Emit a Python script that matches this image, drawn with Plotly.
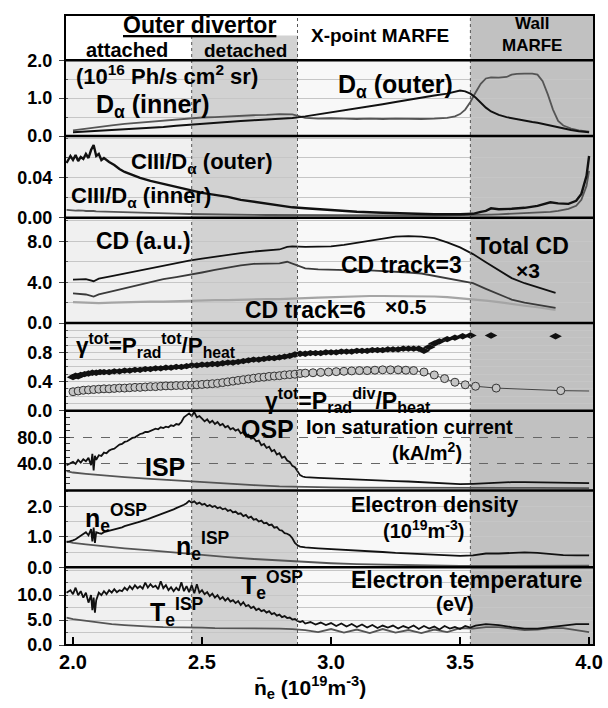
import plotly.graph_objects as go

FONT = "Liberation Sans, Arial, Helvetica, sans-serif"
BLACK = "#111111"
GRAY = "#555555"
LIGHT = "#a5a5a5"

# ---------------- data ----------------
# regime boundaries (line-averaged density, 1e19 m^-3)
x_detach = 2.46
x_xpoint = 2.87
x_wall = 3.54
x_min, x_max = 1.969, 4.019
x_ticks = [2.0, 2.5, 3.0, 3.5, 4.0]

# Panel 1: D-alpha (1e16 Ph/s cm2 sr)
da_x = [2.00,2.05,2.10,2.15,2.20,2.25,2.30,2.35,2.40,2.45,
        2.50,2.55,2.60,2.65,2.70,2.75,2.80,2.85,2.90,2.95,
        3.00,3.05,3.10,3.15,3.20,3.25,3.30,3.35,3.40,3.45,
        3.48,3.50,3.52,3.54,3.56,3.58,3.60,3.62,
        3.65,3.68,3.70,3.72,3.75,3.78,3.80,3.82,3.84,3.86,3.88,3.90,3.93,3.96,4.00]
da_outer = [0.10,0.12,0.13,0.15,0.17,0.19,0.22,0.24,0.27,0.30,
            0.33,0.35,0.37,0.40,0.42,0.44,0.46,0.48,0.52,0.57,
            0.62,0.67,0.72,0.78,0.84,0.90,0.96,1.02,1.07,1.12,
            1.17,1.20,1.18,1.12,1.02,0.88,0.75,0.65,
            0.56,0.50,0.47,0.44,0.41,0.37,0.35,0.32,0.29,0.26,0.23,0.20,0.16,0.13,0.10]
da_inner = [0.15,0.20,0.24,0.28,0.32,0.35,0.38,0.41,0.44,0.47,
            0.49,0.50,0.52,0.53,0.55,0.56,0.58,0.57,0.48,0.46,
            0.47,0.46,0.45,0.46,0.45,0.46,0.45,0.45,0.46,0.48,
            0.52,0.58,0.70,0.90,1.15,1.38,1.52,1.55,
            1.54,1.56,1.62,1.64,1.65,1.65,1.62,1.45,1.10,0.70,0.40,0.28,0.20,0.15,0.12]

# Panel 2: CIII/D-alpha
ciii_x = [1.975,1.99,2.00,2.01,2.02,2.03,2.04,2.05,2.06,2.07,
          2.08,2.09,2.10,2.11,2.12,2.14,2.16,2.18,2.20,2.23,
          2.26,2.30,2.35,2.40,2.45,2.50,2.55,2.60,2.65,2.70,
          2.75,2.80,2.85,2.90,2.95,3.00,3.10,3.20,3.30,3.40,
          3.50,3.55,3.58,3.60,3.62,3.65,3.70,3.75,3.80,3.85,
          3.88,3.92,3.95,3.97,3.99,4.00]
ciii_outer = [0.055,0.062,0.058,0.063,0.057,0.061,0.059,0.064,0.060,0.068,
              0.073,0.062,0.064,0.058,0.060,0.056,0.053,0.049,0.046,0.043,
              0.040,0.037,0.034,0.031,0.028,0.025,0.023,0.021,0.018,0.016,
              0.014,0.012,0.0105,0.0095,0.0085,0.0075,0.006,0.005,0.004,0.0035,
              0.0035,0.004,0.006,0.007,0.0095,0.0085,0.009,0.010,0.012,0.0155,
              0.0145,0.014,0.017,0.024,0.042,0.062]
ciii_inner = [0.0080,0.0075,0.0078,0.0072,0.0075,0.0070,0.0072,0.0068,0.0070,0.0066,
              0.0068,0.0065,0.0064,0.0063,0.0062,0.0060,0.0058,0.0056,0.0055,0.0052,
              0.0050,0.0047,0.0044,0.0041,0.0038,0.0035,0.0033,0.0031,0.0030,0.0029,
              0.0028,0.0027,0.0026,0.0025,0.0025,0.0024,0.0024,0.0023,0.0023,0.0023,
              0.0024,0.0026,0.0028,0.0030,0.0032,0.0035,0.0040,0.0045,0.0050,0.0060,
              0.0070,0.0090,0.0120,0.0180,0.0320,0.0470]

# Panel 3: CD (a.u.)
cd_x = [2.00,2.05,2.08,2.10,2.15,2.20,2.25,2.30,2.35,2.40,
        2.45,2.50,2.55,2.60,2.65,2.70,2.75,2.80,2.83,2.85,
        2.90,2.95,3.00,3.05,3.10,3.15,3.20,3.25,3.30,3.35,
        3.40,3.45,3.50,3.55,3.60,3.65,3.70,3.75,3.80,3.85,
        3.87]
cd_total = [4.25,4.30,4.10,4.35,4.60,4.85,5.15,5.40,5.65,5.90,
            6.10,6.30,6.50,6.70,6.85,7.00,7.10,7.20,7.45,7.50,
            7.45,7.45,7.50,7.65,7.85,8.10,8.30,8.45,8.50,8.45,
            8.30,7.90,7.40,6.75,5.95,5.15,4.40,3.90,3.50,3.10,
            2.95]
cd_track3 = [2.90,2.80,2.60,2.80,3.10,3.40,3.75,4.05,4.30,4.50,
             4.70,4.95,5.20,5.45,5.65,5.80,5.85,5.85,6.00,5.80,
             5.35,5.25,5.20,5.20,5.15,5.15,5.10,5.00,4.95,4.85,
             4.60,4.35,4.10,3.90,3.35,2.80,2.30,2.00,1.80,1.55,
             1.50]
cd_track6 = [2.05,2.00,1.90,1.95,2.00,2.05,2.05,2.10,2.10,2.15,
             2.20,2.20,2.25,2.25,2.30,2.30,2.35,2.35,2.40,2.40,
             2.45,2.50,2.55,2.60,2.62,2.65,2.65,2.65,2.65,2.62,
             2.60,2.55,2.45,2.35,2.20,2.05,1.85,1.70,1.55,1.40,
             1.30]

# Panel 4: radiated fractions
gtot_x = [2.00,2.01,2.02,2.03,2.045,2.06,2.075,2.09,2.105,2.12,
          2.14,2.16,2.18,2.20,2.22,2.24,2.26,2.28,2.30,2.32,
          2.34,2.36,2.38,2.40,2.42,2.44,2.46,2.48,2.50,2.52,
          2.54,2.56,2.58,2.60,2.62,2.64,2.66,2.68,2.70,2.72,
          2.74,2.76,2.78,2.80,2.82,2.84,2.86,2.88,2.90,2.92,
          2.94,2.96,2.98,3.00,3.02,3.04,3.06,3.08,3.10,3.12,
          3.14,3.16,3.18,3.20,3.22,3.24,3.26,3.28,3.30,3.32,
          3.34,3.36,3.38,3.40,3.42,3.45,3.48,3.51,3.54,3.62,
          3.87]
gtot = [0.46,0.48,0.47,0.49,0.50,0.51,0.52,0.52,0.53,0.53,
        0.53,0.54,0.54,0.55,0.55,0.56,0.56,0.57,0.57,0.58,
        0.58,0.59,0.59,0.60,0.60,0.61,0.62,0.62,0.63,0.63,
        0.64,0.64,0.65,0.66,0.66,0.67,0.68,0.69,0.70,0.70,
        0.71,0.72,0.72,0.73,0.74,0.75,0.77,0.78,0.78,0.79,
        0.79,0.79,0.80,0.80,0.80,0.81,0.81,0.81,0.82,0.82,
        0.82,0.83,0.83,0.83,0.84,0.84,0.84,0.85,0.85,0.85,
        0.85,0.82,0.87,0.92,0.95,0.98,1.00,1.02,1.03,1.03,
        1.02]
gdiv_x = [2.00,2.02,2.04,2.06,2.08,2.10,2.12,2.14,2.16,2.18,
          2.20,2.22,2.24,2.26,2.28,2.30,2.32,2.34,2.36,2.38,
          2.40,2.42,2.44,2.46,2.48,2.50,2.52,2.54,2.56,2.58,
          2.60,2.62,2.64,2.66,2.68,2.70,2.72,2.74,2.76,2.78,
          2.80,2.82,2.84,2.86,2.88,2.90,2.93,2.96,2.99,3.02,
          3.05,3.08,3.11,3.14,3.17,3.20,3.23,3.26,3.29,3.32,
          3.36,3.40,3.44,3.48,3.52,3.56,3.64,3.89,4.00]
gdiv = [0.26,0.27,0.28,0.285,0.29,0.295,0.30,0.30,0.305,0.31,
        0.31,0.315,0.32,0.32,0.325,0.33,0.33,0.335,0.34,0.34,
        0.345,0.345,0.35,0.35,0.355,0.36,0.365,0.37,0.375,0.385,
        0.395,0.405,0.415,0.425,0.435,0.445,0.455,0.46,0.47,0.475,
        0.48,0.49,0.495,0.50,0.51,0.515,0.52,0.525,0.53,0.535,
        0.54,0.545,0.55,0.55,0.555,0.56,0.56,0.56,0.555,0.55,
        0.53,0.49,0.44,0.39,0.355,0.335,0.31,0.275,0.27]

# Panels 5-7: probe data (OSP noisy traces share this density grid up to 2.90)
isat_x = [1.975,1.99,2.00,2.01,2.02,2.03,2.04,2.05,2.06,2.07,2.075,2.08,2.085,
          2.09,2.10,2.11,2.12,2.13,2.14,2.15,2.16,2.17,2.18,
          2.19,2.20,2.21,2.22,2.23,2.24,2.25,2.26,2.27,2.28,
          2.29,2.30,2.31,2.32,2.33,2.34,2.35,2.36,2.37,2.38,
          2.39,2.40,2.41,2.42,2.43,2.44,2.45,2.46,2.47,2.48,
          2.49,2.50,2.51,2.52,2.53,2.54,2.55,2.56,2.57,2.58,
          2.59,2.60,2.61,2.62,2.63,2.64,2.65,2.66,2.67,2.68,
          2.69,2.70,2.71,2.72,2.73,2.74,2.75,2.76,2.77,2.78,
          2.79,2.80,2.81,2.82,2.83,2.84,2.85,2.86,2.87,2.88,
          2.89,2.90,
          2.95,3.00,3.05,3.10,3.15,3.20,3.25,3.30,3.35,3.40,
          3.45,3.50,3.55,3.60,3.65,3.70,3.75,3.80,3.85,3.90,
          3.95,4.00]
isat_osp = [38,41,43,40,46,42,47,44,49,38,55,30,52,
            46,53,52,57,56,60,62,63,66,69,
            70,73,74,77,79,80,83,85,86,88,
            88,90,91,93,92,95,94,96,95,98,
            97,100,99,103,110,113,116,112,118,110,
            112,108,104,107,102,105,100,103,98,100,
            95,97,92,94,90,92,86,88,82,84,
            78,79,74,75,68,70,64,66,59,61,
            54,56,49,51,45,43,37,35,29,23,
            21,20,
            19,18,17,16,15.5,15,14,13.5,12.5,11.5,
            10.5,9.5,10,11,12,12.5,12.5,12,11.5,11,
            11,11]
ne_osp = [0.82,0.85,0.88,0.92,0.98,1.02,1.08,1.15,1.05,1.25,0.85,1.30,0.80,
          1.15,1.12,1.10,1.15,1.17,1.19,1.21,1.24,1.26,1.29,
          1.31,1.35,1.37,1.40,1.42,1.45,1.47,1.50,1.52,1.55,
          1.58,1.61,1.64,1.67,1.70,1.74,1.77,1.80,1.83,1.87,
          1.90,1.94,1.97,2.01,2.05,2.10,2.18,2.12,2.16,2.08,
          2.12,2.05,2.08,2.00,2.04,1.98,2.01,1.94,1.97,1.90,
          1.93,1.85,1.88,1.80,1.83,1.75,1.77,1.68,1.72,1.62,
          1.66,1.56,1.58,1.50,1.53,1.44,1.46,1.38,1.40,1.30,
          1.32,1.22,1.20,1.12,1.10,1.05,0.95,0.80,0.72,0.68,
          0.66,0.65,
          0.62,0.60,0.57,0.54,0.52,0.50,0.47,0.45,0.42,0.40,
          0.38,0.37,0.39,0.45,0.45,0.47,0.49,0.47,0.43,0.40,
          0.39,0.39]
isp_x = [1.975,2.00,2.05,2.10,2.20,2.30,2.40,2.50,2.60,2.70,2.80,2.90,
         3.00,3.10,3.20,3.30,3.40,3.50,3.60,3.70,3.80,3.90,4.00]
isat_isp = [29,27,25,23,20,17.5,15,12,10,8,6,5,
            4.5,4.2,4.0,3.8,3.5,3.5,3.6,3.8,3.8,3.7,3.6]
ne_isp = [0.85,0.80,0.75,0.70,0.62,0.55,0.47,0.40,0.33,0.27,0.22,0.17,
          0.13,0.10,0.08,0.06,0.05,0.04,0.04,0.04,0.04,0.05,0.05]

te_x = [1.975,1.99,2.00,2.01,2.02,2.03,2.04,2.05,2.06,2.07,2.075,2.08,2.085,
        2.09,2.10,2.11,2.12,2.13,2.14,2.15,2.16,2.17,2.18,
        2.19,2.20,2.21,2.22,2.23,2.24,2.25,2.26,2.27,2.28,
        2.29,2.30,2.31,2.32,2.33,2.34,2.35,2.36,2.37,2.38,
        2.39,2.40,2.41,2.42,2.43,2.44,2.45,2.46,2.47,2.48,
        2.49,2.50,2.51,2.52,2.53,2.54,2.55,2.56,2.57,2.58,
        2.59,2.60,2.61,2.62,2.63,2.64,2.65,2.66,2.67,2.68,
        2.69,2.70,2.71,2.72,2.73,2.74,2.75,2.76,2.77,2.78,
        2.79,2.80,2.81,2.82,2.83,2.84,2.85,2.86,2.87,2.88,
        2.89,2.90,
        2.92,2.94,2.96,2.98,3.00,3.02,3.04,3.06,3.08,3.10,
        3.12,3.14,3.16,3.18,3.20,3.22,3.24,3.26,3.28,3.30,
        3.32,3.34,3.36,3.38,3.40,3.42,3.44,3.46,3.48,3.50,
        3.52,3.54,3.56,
        3.60,3.65,3.70,3.75,3.80,3.85,3.90,3.95,4.00]
te_osp = [10.5,11.0,10.2,11.5,10.0,10.8,9.5,10.5,8.5,10.0,7.0,9.5,6.5,
          9.0,10.5,10.0,10.8,10.2,11.0,10.5,11.2,10.6,11.0,
          10.8,11.5,11.0,11.8,11.2,12.0,11.4,11.8,11.3,12.5,
          11.5,12.2,11.6,11.9,11.2,12.8,11.4,12.0,11.0,11.6,
          10.8,11.5,10.9,12.6,10.8,11.8,10.6,12.0,10.4,12.2,
          10.5,11.0,10.2,10.6,9.8,10.3,9.5,10.0,9.2,9.6,
          8.9,9.4,8.7,9.0,8.4,8.8,8.0,8.6,7.8,8.0,
          7.4,7.7,7.0,7.3,6.8,7.0,6.5,6.8,6.2,6.4,
          5.9,6.1,5.6,5.8,5.4,5.5,5.1,5.2,4.8,4.6,
          4.8,4.3,
          4.6,4.1,4.5,4.0,4.4,3.8,4.3,3.7,4.2,3.6,
          4.1,3.5,4.0,3.4,3.9,3.5,3.9,3.3,3.8,3.4,
          3.9,3.2,3.8,3.3,3.7,3.1,3.8,3.3,3.6,3.2,
          3.8,3.5,3.9,
          4.2,4.0,3.6,3.3,3.3,3.6,4.0,4.2,4.2]
te_isp_x = [1.975,2.00,2.03,2.06,
            2.10,2.15,2.20,2.25,2.30,2.35,2.40,2.45,2.50,2.55,
            2.60,2.65,2.70,2.75,2.80,2.85,2.90,2.95,3.00,3.05,
            3.10,3.15,3.20,3.25,3.30,3.35,3.40,3.45,3.50,3.55,
            3.60,3.65,3.70,3.75,3.80,3.85,3.90,3.95,4.00]
te_isp = [5.5,5.2,5.0,4.8,
          4.5,4.2,4.0,3.8,3.7,3.6,3.6,3.5,3.5,3.4,
          3.4,3.4,3.3,3.3,3.3,3.2,3.0,2.6,3.2,2.5,
          3.1,2.4,3.2,2.5,3.0,2.4,3.1,2.6,3.4,3.3,
          3.6,3.6,3.3,3.0,3.1,3.4,3.4,3.0,2.6]

# ---------------- figure ----------------
PX = [5, 51, 128, 211, 318, 407, 488, 566, 645]   # panel borders (px from top)
TOP, BOT = PX[0], PX[-1]
PLOT_H = BOT - TOP


def frac(px):
    return (BOT - px) / PLOT_H


fig = go.Figure()


def add_line(x, y, yaxis, color, width):
    fig.add_trace(go.Scatter(x=x, y=y, xaxis="x", yaxis=yaxis, mode="lines",
                             line=dict(color=color, width=width),
                             showlegend=False, hoverinfo="skip"))


# D-alpha
add_line(da_x, da_inner, "y7", GRAY, 1.8)
add_line(da_x, da_outer, "y7", BLACK, 2.0)
# CIII / D-alpha
add_line(ciii_x, ciii_inner, "y6", GRAY, 1.8)
add_line(ciii_x, ciii_outer, "y6", BLACK, 2.4)
# CD
add_line(cd_x, cd_track6, "y5", LIGHT, 2.2)
add_line(cd_x, cd_track3, "y5", "#3a3a3a", 1.8)
add_line(cd_x, cd_total, "y5", BLACK, 1.8)
# radiated fractions
fig.add_trace(go.Scatter(x=gdiv_x, y=gdiv, xaxis="x", yaxis="y4", mode="lines",
                         line=dict(color="#444444", width=1), showlegend=False,
                         hoverinfo="skip"))
fig.add_trace(go.Scatter(x=gdiv_x[:-1], y=gdiv[:-1], xaxis="x", yaxis="y4", mode="markers",
                         marker=dict(symbol="circle", size=8, color="#c4c4c4",
                                     line=dict(color="#333333", width=1)),
                         showlegend=False, hoverinfo="skip"))
fig.add_trace(go.Scatter(x=gtot_x, y=gtot, xaxis="x", yaxis="y4", mode="markers",
                         marker=dict(symbol="diamond-wide", size=9, color=BLACK,
                                     line=dict(width=0)),
                         showlegend=False, hoverinfo="skip"))
# Isat
add_line(isp_x, isat_isp, "y3", GRAY, 1.8)
add_line(isat_x, isat_osp, "y3", BLACK, 1.8)
# ne
add_line(isp_x, ne_isp, "y2", GRAY, 1.8)
add_line(isat_x, ne_osp, "y2", BLACK, 1.8)
# Te
add_line(te_isp_x, te_isp, "y", GRAY, 1.8)
add_line(te_x, te_osp, "y", BLACK, 1.8)

GRID = "#c6c6c6"


def yaxis(top, bot, rng, tickvals, fmt, grid_dtick, minor_len=3, dashed=False):
    d = dict(domain=[frac(bot), frac(top)], range=rng, anchor="x",
             tickvals=tickvals, tickformat=fmt, ticks="outside", ticklen=5,
             tickcolor="#444444", tickwidth=1,
             tickfont=dict(family=FONT, size=18, color="black", weight="bold"),
             showline=False, zeroline=False, fixedrange=True, ticklabelstandoff=3)
    if dashed:
        d.update(showgrid=True, gridcolor="#666666", griddash="dash", gridwidth=1,
                 minor=dict(dtick=grid_dtick, tick0=0, ticks="inside", ticklen=minor_len,
                            tickcolor="#333333", showgrid=False))
    else:
        d.update(showgrid=True, gridcolor=GRID, gridwidth=1,
                 minor=dict(dtick=grid_dtick, tick0=0, ticks="inside", ticklen=minor_len,
                            tickcolor="#555555", showgrid=True, gridcolor=GRID, gridwidth=1))
    return d


layout = dict(
    width=608, height=708,
    margin=dict(l=65, r=11, t=TOP, b=708 - BOT, pad=0),
    paper_bgcolor="white", plot_bgcolor="rgba(0,0,0,0)",
    showlegend=False,
    font=dict(family=FONT, color="black"),
    xaxis=dict(domain=[0, 1], range=[x_min, x_max], anchor="y",
               tickvals=x_ticks, tickformat=".1f", ticks="inside", ticklen=8,
               tickcolor="black", tickwidth=1.5,
               tickfont=dict(family=FONT, size=20, color="black", weight="bold"),
               showgrid=False, zeroline=False, showline=False, fixedrange=True,
               ticklabelstandoff=3),
    yaxis=yaxis(PX[7], PX[8], [0, 15.6], [0, 5, 10], ".1f", 2.5),
    yaxis2=yaxis(PX[6], PX[7], [0, 2.52], [0, 1, 2], ".1f", 0.5),
    yaxis3=yaxis(PX[5], PX[6], [0, 120], [40, 80], ".1f", 10, minor_len=5, dashed=True),
    yaxis4=yaxis(PX[4], PX[5], [0, 1.2], [0, 0.4, 0.8], ".1f", 0.1),
    yaxis5=yaxis(PX[3], PX[4], [0, 10.3], [0, 4, 8], ".1f", 2),
    yaxis6=yaxis(PX[2], PX[3], [0, 0.082], [0, 0.04], ".2f", 0.02),
    yaxis7=yaxis(PX[1], PX[2], [0, 2.0], [0, 1, 2], ".1f", 0.5),
    yaxis8=dict(domain=[frac(PX[1]), frac(PX[0])], range=[0, 1], anchor="x",
                showticklabels=False, ticks="", showgrid=False, zeroline=False,
                showline=False, fixedrange=True),
)

shapes = []
hdr_bot = frac(PX[1])
det_top = frac(PX[1] - 0.55 * (PX[1] - PX[0]))
# background shading of the regimes (panels)
for x0, x1, col in [(x_min, x_detach, "#f0f0f0"), (x_detach, x_xpoint, "#d2d2d2"),
                    (x_xpoint, x_wall, "#f8f8f8"), (x_wall, x_max, "#c1c1c1")]:
    shapes.append(dict(type="rect", xref="x", yref="paper", x0=x0, x1=x1, y0=0, y1=hdr_bot,
                       fillcolor=col, line=dict(width=0), layer="below"))
# header shading
shapes.append(dict(type="rect", xref="x", yref="paper", x0=x_detach, x1=x_xpoint,
                   y0=hdr_bot, y1=det_top, fillcolor="#d2d2d2", line=dict(width=0), layer="below"))
shapes.append(dict(type="rect", xref="x", yref="paper", x0=x_wall, x1=x_max,
                   y0=hdr_bot, y1=1, fillcolor="#c1c1c1", line=dict(width=0), layer="below"))
# dotted regime borders
for xv, ytop in [(x_detach, det_top), (x_xpoint, 1), (x_wall, 1)]:
    shapes.append(dict(type="line", xref="x", yref="paper", x0=xv, x1=xv, y0=0, y1=ytop,
                       line=dict(color="#555555", width=1, dash="dot"), layer="above"))
# panel borders
for p in PX[1:-1]:
    shapes.append(dict(type="line", xref="paper", yref="paper", x0=0, x1=1,
                       y0=frac(p), y1=frac(p), line=dict(color="black", width=2.5),
                       layer="above"))
shapes.append(dict(type="rect", xref="paper", yref="paper", x0=0, x1=1, y0=0, y1=1,
                   line=dict(color="black", width=2), fillcolor="rgba(0,0,0,0)",
                   layer="above"))
layout["shapes"] = shapes

ann = []


def label(text, x, y, yref, size, xanchor="left"):
    ann.append(dict(text=text, x=x, y=y, xref="x", yref=yref, xanchor=xanchor,
                    yanchor="middle", showarrow=False,
                    font=dict(family=FONT, size=size, color="black", weight="bold")))


# header
label("<u>Outer divertor</u>", 2.49, 0.78, "y8", 23, "center")
label("attached", 2.21, 0.22, "y8", 20, "center")
label("detached", 2.67, 0.22, "y8", 19, "center")
label("X-point MARFE", 3.19, 0.54, "y8", 19, "center")
label("Wall<br>MARFE", 3.78, 0.58, "y8", 17, "center")
# D-alpha
label("(10<sup>16</sup> Ph/s cm<sup>2</sup> sr)", 2.003, 1.6, "y7", 22)
label("D<sub>α</sub> (inner)", 2.08, 0.8, "y7", 25)
label("D<sub>α</sub> (outer)", 3.02, 1.33, "y7", 25)
# CIII
label("CIII/D<sub>α</sub> (outer)", 2.217, 0.055, "y6", 22)
label("CIII/D<sub>α</sub> (inner)", 1.985, 0.021, "y6", 22)
# CD
label("CD (a.u.)", 2.08, 8.0, "y5", 23)
label("CD track=3", 3.03, 5.65, "y5", 23)
label("Total CD", 3.555, 7.55, "y5", 23)
label("×3", 3.71, 5.1, "y5", 21)
label("CD track=6", 2.66, 1.3, "y5", 23)
label("×0.5", 3.20, 1.65, "y5", 21)
# radiated fraction
label("γ<sup>tot</sup>=P<sub>rad</sub><sup>tot</sup>/P<sub>heat</sub>", 2.003, 0.89, "y4", 22.5)
label("γ<sup>tot</sup>=P<sub>rad</sub><sup>div</sup>/P<sub>heat</sub>", 2.737, 0.15, "y4", 23)
# Isat
label("OSP", 2.645, 93, "y3", 25)
label("Ion saturation current", 2.895, 95, "y3", 20)
label("(kA/m<sup>2</sup>)", 3.37, 58, "y3", 20, "center")
label("ISP", 2.27, 36, "y3", 25)
# ne
label("n<sub>e</sub><sup>OSP</sup>", 2.04, 1.6, "y2", 25)
label("n<sub>e</sub><sup>ISP</sup>", 2.39, 0.7, "y2", 25)
label("Electron density", 3.07, 2.04, "y2", 21.5)
label("(10<sup>19</sup>m<sup>-3</sup>)", 3.36, 1.25, "y2", 20, "center")
# Te
label("T<sub>e</sub><sup>OSP</sup>", 2.645, 12, "y", 25)
label("T<sub>e</sub><sup>ISP</sup>", 2.29, 6.6, "y", 25)
label("Electron temperature", 3.07, 13.1, "y", 23)
label("(eV)", 3.48, 8.2, "y", 20, "center")
# x-axis title
ann.append(dict(text="n̄<sub>e</sub> (10<sup>19</sup>m<sup>-3</sup>)", x=2.92, y=frac(672),
                xref="x", yref="paper", xanchor="center", yanchor="top", showarrow=False,
                borderpad=0,
                font=dict(family=FONT, size=21, color="black", weight="bold")))
layout["annotations"] = ann

fig.update_layout(**layout)
fig.write_html("out.html")
